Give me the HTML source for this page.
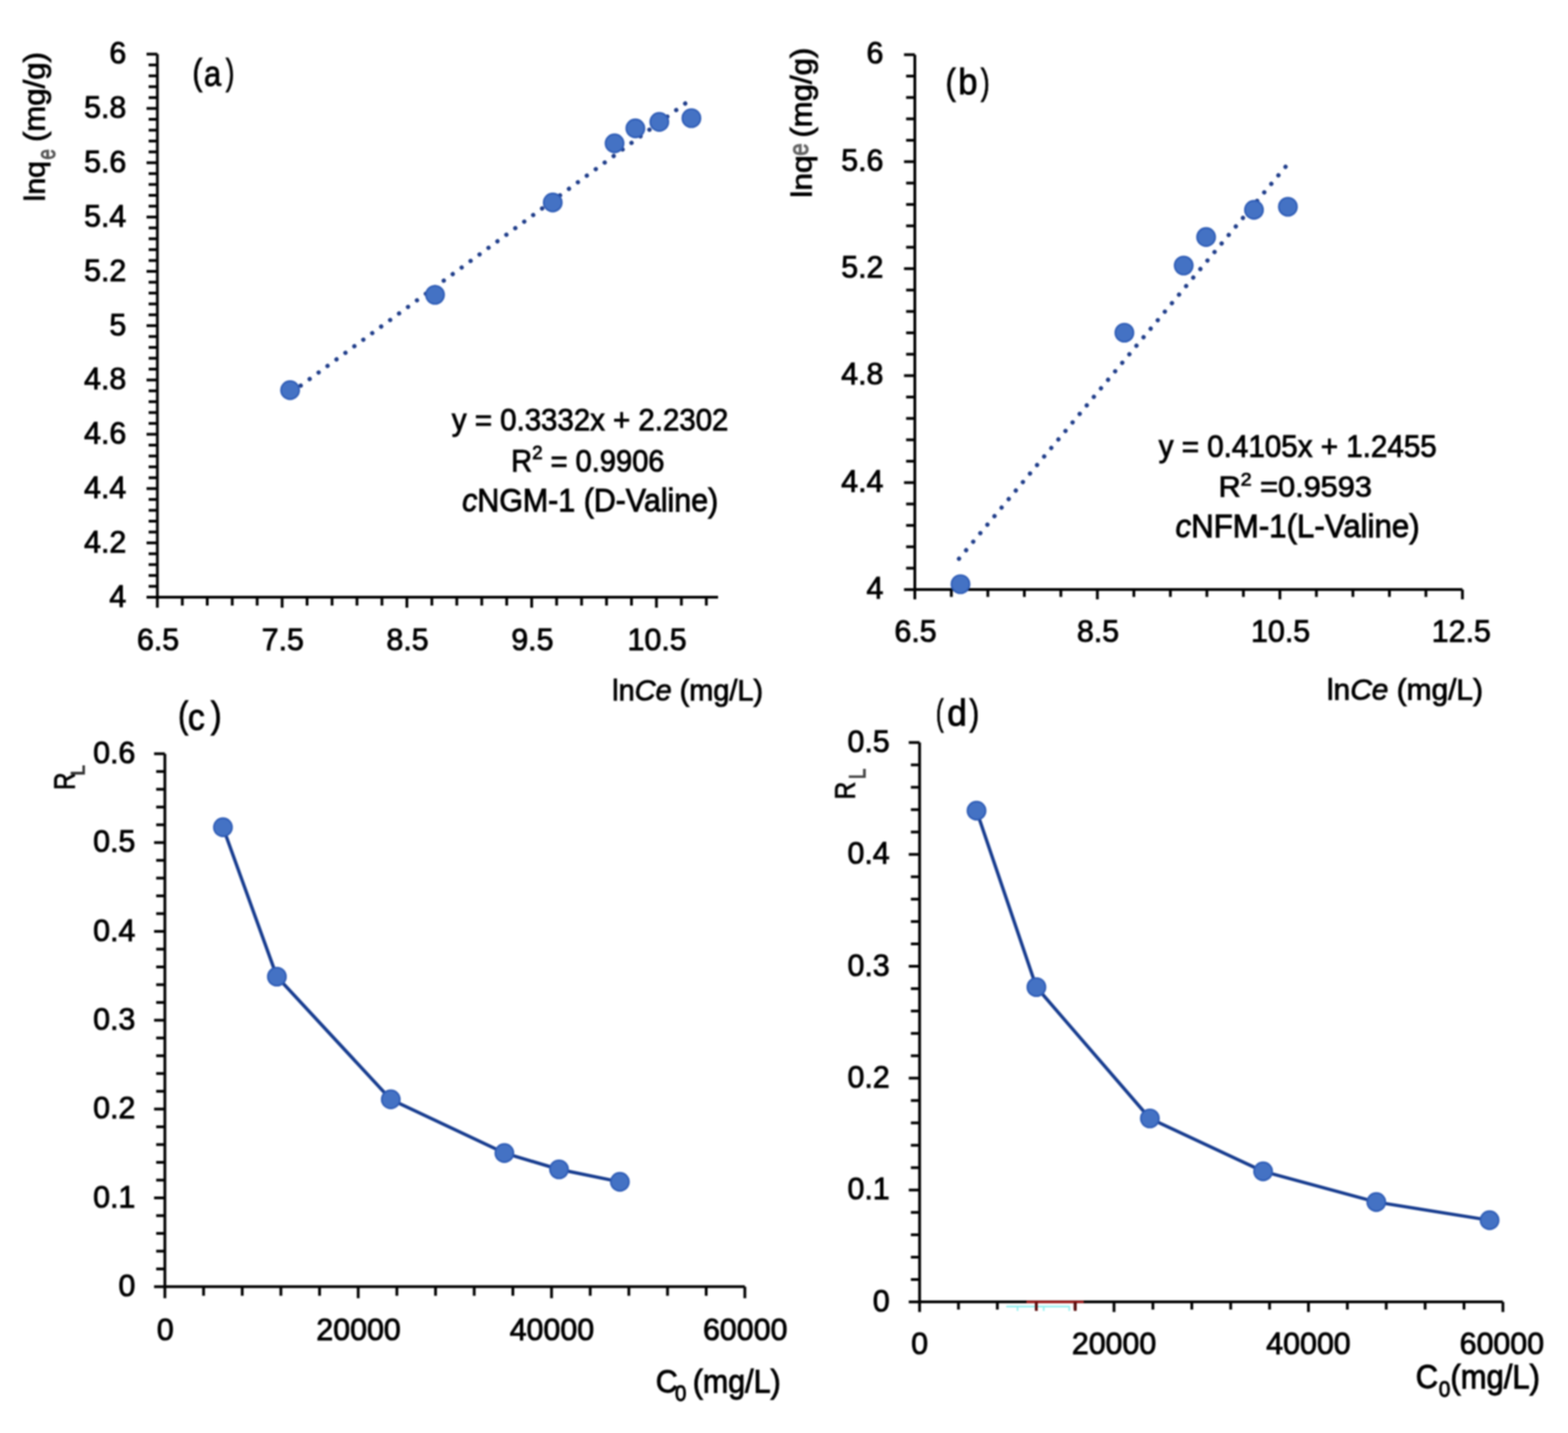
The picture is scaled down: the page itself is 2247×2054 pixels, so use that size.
<!DOCTYPE html><html><head><meta charset="utf-8"><title>Isotherm plots</title><style>html,body{margin:0;padding:0;background:#fff;overflow:hidden;}svg{display:block;filter:blur(1px);}text{font-family:"Liberation Sans", Arial, sans-serif;fill:#000;stroke:#000;stroke-width:1.2px;}</style></head><body>
<svg width="2247" height="2054" viewBox="0 0 2247 2054">
<rect width="2247" height="2054" fill="#fff"/>
<line x1="225.5" y1="77.6" x2="225.5" y2="856" stroke="#000" stroke-width="4.0" />
<line x1="225.5" y1="856" x2="1029" y2="856" stroke="#000" stroke-width="4.0" />
<line x1="210" y1="856" x2="225.5" y2="856" stroke="#000" stroke-width="4.0" />
<line x1="210" y1="778.16" x2="225.5" y2="778.16" stroke="#000" stroke-width="4.0" />
<line x1="210" y1="700.32" x2="225.5" y2="700.32" stroke="#000" stroke-width="4.0" />
<line x1="210" y1="622.48" x2="225.5" y2="622.48" stroke="#000" stroke-width="4.0" />
<line x1="210" y1="544.64" x2="225.5" y2="544.64" stroke="#000" stroke-width="4.0" />
<line x1="210" y1="466.8" x2="225.5" y2="466.8" stroke="#000" stroke-width="4.0" />
<line x1="210" y1="388.96" x2="225.5" y2="388.96" stroke="#000" stroke-width="4.0" />
<line x1="210" y1="311.12" x2="225.5" y2="311.12" stroke="#000" stroke-width="4.0" />
<line x1="210" y1="233.28" x2="225.5" y2="233.28" stroke="#000" stroke-width="4.0" />
<line x1="210" y1="155.44" x2="225.5" y2="155.44" stroke="#000" stroke-width="4.0" />
<line x1="210" y1="77.6" x2="225.5" y2="77.6" stroke="#000" stroke-width="4.0" />
<line x1="213" y1="840.43" x2="225.5" y2="840.43" stroke="#000" stroke-width="4.0" />
<line x1="213" y1="824.86" x2="225.5" y2="824.86" stroke="#000" stroke-width="4.0" />
<line x1="213" y1="809.3" x2="225.5" y2="809.3" stroke="#000" stroke-width="4.0" />
<line x1="213" y1="793.73" x2="225.5" y2="793.73" stroke="#000" stroke-width="4.0" />
<line x1="213" y1="762.59" x2="225.5" y2="762.59" stroke="#000" stroke-width="4.0" />
<line x1="213" y1="747.02" x2="225.5" y2="747.02" stroke="#000" stroke-width="4.0" />
<line x1="213" y1="731.46" x2="225.5" y2="731.46" stroke="#000" stroke-width="4.0" />
<line x1="213" y1="715.89" x2="225.5" y2="715.89" stroke="#000" stroke-width="4.0" />
<line x1="213" y1="684.75" x2="225.5" y2="684.75" stroke="#000" stroke-width="4.0" />
<line x1="213" y1="669.18" x2="225.5" y2="669.18" stroke="#000" stroke-width="4.0" />
<line x1="213" y1="653.62" x2="225.5" y2="653.62" stroke="#000" stroke-width="4.0" />
<line x1="213" y1="638.05" x2="225.5" y2="638.05" stroke="#000" stroke-width="4.0" />
<line x1="213" y1="606.91" x2="225.5" y2="606.91" stroke="#000" stroke-width="4.0" />
<line x1="213" y1="591.34" x2="225.5" y2="591.34" stroke="#000" stroke-width="4.0" />
<line x1="213" y1="575.78" x2="225.5" y2="575.78" stroke="#000" stroke-width="4.0" />
<line x1="213" y1="560.21" x2="225.5" y2="560.21" stroke="#000" stroke-width="4.0" />
<line x1="213" y1="529.07" x2="225.5" y2="529.07" stroke="#000" stroke-width="4.0" />
<line x1="213" y1="513.5" x2="225.5" y2="513.5" stroke="#000" stroke-width="4.0" />
<line x1="213" y1="497.94" x2="225.5" y2="497.94" stroke="#000" stroke-width="4.0" />
<line x1="213" y1="482.37" x2="225.5" y2="482.37" stroke="#000" stroke-width="4.0" />
<line x1="213" y1="451.23" x2="225.5" y2="451.23" stroke="#000" stroke-width="4.0" />
<line x1="213" y1="435.66" x2="225.5" y2="435.66" stroke="#000" stroke-width="4.0" />
<line x1="213" y1="420.1" x2="225.5" y2="420.1" stroke="#000" stroke-width="4.0" />
<line x1="213" y1="404.53" x2="225.5" y2="404.53" stroke="#000" stroke-width="4.0" />
<line x1="213" y1="373.39" x2="225.5" y2="373.39" stroke="#000" stroke-width="4.0" />
<line x1="213" y1="357.82" x2="225.5" y2="357.82" stroke="#000" stroke-width="4.0" />
<line x1="213" y1="342.26" x2="225.5" y2="342.26" stroke="#000" stroke-width="4.0" />
<line x1="213" y1="326.69" x2="225.5" y2="326.69" stroke="#000" stroke-width="4.0" />
<line x1="213" y1="295.55" x2="225.5" y2="295.55" stroke="#000" stroke-width="4.0" />
<line x1="213" y1="279.98" x2="225.5" y2="279.98" stroke="#000" stroke-width="4.0" />
<line x1="213" y1="264.42" x2="225.5" y2="264.42" stroke="#000" stroke-width="4.0" />
<line x1="213" y1="248.85" x2="225.5" y2="248.85" stroke="#000" stroke-width="4.0" />
<line x1="213" y1="217.71" x2="225.5" y2="217.71" stroke="#000" stroke-width="4.0" />
<line x1="213" y1="202.14" x2="225.5" y2="202.14" stroke="#000" stroke-width="4.0" />
<line x1="213" y1="186.58" x2="225.5" y2="186.58" stroke="#000" stroke-width="4.0" />
<line x1="213" y1="171.01" x2="225.5" y2="171.01" stroke="#000" stroke-width="4.0" />
<line x1="213" y1="139.87" x2="225.5" y2="139.87" stroke="#000" stroke-width="4.0" />
<line x1="213" y1="124.3" x2="225.5" y2="124.3" stroke="#000" stroke-width="4.0" />
<line x1="213" y1="108.74" x2="225.5" y2="108.74" stroke="#000" stroke-width="4.0" />
<line x1="213" y1="93.17" x2="225.5" y2="93.17" stroke="#000" stroke-width="4.0" />
<line x1="225.5" y1="856" x2="225.5" y2="871" stroke="#000" stroke-width="4.0" />
<line x1="404.3" y1="856" x2="404.3" y2="871" stroke="#000" stroke-width="4.0" />
<line x1="583.1" y1="856" x2="583.1" y2="871" stroke="#000" stroke-width="4.0" />
<line x1="761.9" y1="856" x2="761.9" y2="871" stroke="#000" stroke-width="4.0" />
<line x1="940.7" y1="856" x2="940.7" y2="871" stroke="#000" stroke-width="4.0" />
<line x1="261.26" y1="856" x2="261.26" y2="868" stroke="#000" stroke-width="4.0" />
<line x1="297.02" y1="856" x2="297.02" y2="868" stroke="#000" stroke-width="4.0" />
<line x1="332.78" y1="856" x2="332.78" y2="868" stroke="#000" stroke-width="4.0" />
<line x1="368.54" y1="856" x2="368.54" y2="868" stroke="#000" stroke-width="4.0" />
<line x1="440.06" y1="856" x2="440.06" y2="868" stroke="#000" stroke-width="4.0" />
<line x1="475.82" y1="856" x2="475.82" y2="868" stroke="#000" stroke-width="4.0" />
<line x1="511.58" y1="856" x2="511.58" y2="868" stroke="#000" stroke-width="4.0" />
<line x1="547.34" y1="856" x2="547.34" y2="868" stroke="#000" stroke-width="4.0" />
<line x1="618.86" y1="856" x2="618.86" y2="868" stroke="#000" stroke-width="4.0" />
<line x1="654.62" y1="856" x2="654.62" y2="868" stroke="#000" stroke-width="4.0" />
<line x1="690.38" y1="856" x2="690.38" y2="868" stroke="#000" stroke-width="4.0" />
<line x1="726.14" y1="856" x2="726.14" y2="868" stroke="#000" stroke-width="4.0" />
<line x1="797.66" y1="856" x2="797.66" y2="868" stroke="#000" stroke-width="4.0" />
<line x1="833.42" y1="856" x2="833.42" y2="868" stroke="#000" stroke-width="4.0" />
<line x1="869.18" y1="856" x2="869.18" y2="868" stroke="#000" stroke-width="4.0" />
<line x1="904.94" y1="856" x2="904.94" y2="868" stroke="#000" stroke-width="4.0" />
<line x1="976.46" y1="856" x2="976.46" y2="868" stroke="#000" stroke-width="4.0" />
<line x1="1012.22" y1="856" x2="1012.22" y2="868" stroke="#000" stroke-width="4.0" />
<text x="181" y="869.8" text-anchor="end" font-size="43.5" >4</text>
<text x="181" y="791.96" text-anchor="end" font-size="43.5" >4.2</text>
<text x="181" y="714.12" text-anchor="end" font-size="43.5" >4.4</text>
<text x="181" y="636.28" text-anchor="end" font-size="43.5" >4.6</text>
<text x="181" y="558.44" text-anchor="end" font-size="43.5" >4.8</text>
<text x="181" y="480.6" text-anchor="end" font-size="43.5" >5</text>
<text x="181" y="402.76" text-anchor="end" font-size="43.5" >5.2</text>
<text x="181" y="324.92" text-anchor="end" font-size="43.5" >5.4</text>
<text x="181" y="247.08" text-anchor="end" font-size="43.5" >5.6</text>
<text x="181" y="169.24" text-anchor="end" font-size="43.5" >5.8</text>
<text x="181" y="91.4" text-anchor="end" font-size="43.5" >6</text>
<text x="226.5" y="932" text-anchor="middle" font-size="43.5" >6.5</text>
<text x="405.3" y="932" text-anchor="middle" font-size="43.5" >7.5</text>
<text x="584.1" y="932" text-anchor="middle" font-size="43.5" >8.5</text>
<text x="762.9" y="932" text-anchor="middle" font-size="43.5" >9.5</text>
<text x="941.7" y="932" text-anchor="middle" font-size="43.5" >10.5</text>
<path d="M981.9 148.4 L430.49 553.09" stroke="#1f3d8a" stroke-width="6.2" stroke-linecap="round" stroke-dasharray="0.01 15.883179023068818" fill="none"/>
<circle cx="415.7" cy="559.2" r="13.0" fill="#4472c4" stroke="#2e5cb6" stroke-width="2.4"/>
<circle cx="623.4" cy="422.6" r="13.0" fill="#4472c4" stroke="#2e5cb6" stroke-width="2.4"/>
<circle cx="792.1" cy="290.2" r="13.0" fill="#4472c4" stroke="#2e5cb6" stroke-width="2.4"/>
<circle cx="880.7" cy="205.5" r="13.0" fill="#4472c4" stroke="#2e5cb6" stroke-width="2.4"/>
<circle cx="910.5" cy="184" r="13.0" fill="#4472c4" stroke="#2e5cb6" stroke-width="2.4"/>
<circle cx="944.8" cy="174.8" r="13.0" fill="#4472c4" stroke="#2e5cb6" stroke-width="2.4"/>
<circle cx="990.8" cy="169.4" r="13.0" fill="#4472c4" stroke="#2e5cb6" stroke-width="2.4"/>
<g transform="translate(278.1,82.5) scale(0.8214,1.0122) translate(-281,-94)"><text id="a_l1" x="278.1" y="132.1" font-size="52">(</text></g>
<g transform="translate(294,95.2) scale(0.8519,1.0000) translate(-296,-96)"><text id="a_l2" x="294" y="124.2" font-size="52">a</text></g>
<g transform="translate(324.1,82.5) scale(0.7071,1.0122) translate(-325,-94)"><text id="a_l3" x="324.1" y="132.1" font-size="52">)</text></g>
<g transform="translate(647.3,585.3) scale(0.9587,1.0225) translate(-647,-595)"><text id="a_eq1" x="647.3" y="626.2" font-size="44">y = 0.3332x + 2.2302</text></g>
<g transform="translate(735.7,638.7) scale(0.9467,1.0167) translate(-739,-639)"><text id="a_eq2" x="735.7" y="675.3" font-size="44">R<tspan font-size="28" dy="-17">2</tspan><tspan dy="17"> = 0.9906</tspan></text></g>
<g transform="translate(662.6,699.3) scale(0.9902,1.0439) translate(-663,-710)"><text id="a_eq3" x="662.6" y="742.1" font-size="44"><tspan font-style="italic">c</tspan>NGM-1 (D-Valine)</text></g>
<g transform="translate(879.6,972.6) scale(0.9627,1.0075) translate(-882,-982)"><text id="a_xt" x="879.6" y="1012.9" font-size="43">ln<tspan font-style="italic">Ce</tspan> (mg/L)</text></g>
<g transform="translate(33,233.4) scale(0.9395,0.9889) translate(-32,-231)"><text id="a_yt1" transform="translate(65,287) rotate(-90)" font-size="44">lnq</text></g>
<g transform="translate(61,215.2) scale(1.2133,0.9000) translate(-64,-212)"><text id="a_yt2" transform="translate(79,227) rotate(-90)" font-size="30"><tspan fill="#555" stroke="#555">e</tspan></text></g>
<g transform="translate(31.7,76.7) scale(0.9698,1.0146) translate(-32,-77)"><text id="a_yt3" transform="translate(65,202) rotate(-90)" font-size="44">(mg/g)</text></g>
<line x1="1311" y1="78.4" x2="1311" y2="845.1" stroke="#000" stroke-width="4.0" />
<line x1="1311" y1="845.1" x2="2095.7" y2="845.1" stroke="#000" stroke-width="4.0" />
<line x1="1295.5" y1="845.1" x2="1311" y2="845.1" stroke="#000" stroke-width="4.0" />
<line x1="1295.5" y1="691.76" x2="1311" y2="691.76" stroke="#000" stroke-width="4.0" />
<line x1="1295.5" y1="538.42" x2="1311" y2="538.42" stroke="#000" stroke-width="4.0" />
<line x1="1295.5" y1="385.08" x2="1311" y2="385.08" stroke="#000" stroke-width="4.0" />
<line x1="1295.5" y1="231.74" x2="1311" y2="231.74" stroke="#000" stroke-width="4.0" />
<line x1="1295.5" y1="78.4" x2="1311" y2="78.4" stroke="#000" stroke-width="4.0" />
<line x1="1298.5" y1="814.43" x2="1311" y2="814.43" stroke="#000" stroke-width="4.0" />
<line x1="1298.5" y1="783.76" x2="1311" y2="783.76" stroke="#000" stroke-width="4.0" />
<line x1="1298.5" y1="753.1" x2="1311" y2="753.1" stroke="#000" stroke-width="4.0" />
<line x1="1298.5" y1="722.43" x2="1311" y2="722.43" stroke="#000" stroke-width="4.0" />
<line x1="1298.5" y1="661.09" x2="1311" y2="661.09" stroke="#000" stroke-width="4.0" />
<line x1="1298.5" y1="630.42" x2="1311" y2="630.42" stroke="#000" stroke-width="4.0" />
<line x1="1298.5" y1="599.76" x2="1311" y2="599.76" stroke="#000" stroke-width="4.0" />
<line x1="1298.5" y1="569.09" x2="1311" y2="569.09" stroke="#000" stroke-width="4.0" />
<line x1="1298.5" y1="507.75" x2="1311" y2="507.75" stroke="#000" stroke-width="4.0" />
<line x1="1298.5" y1="477.08" x2="1311" y2="477.08" stroke="#000" stroke-width="4.0" />
<line x1="1298.5" y1="446.42" x2="1311" y2="446.42" stroke="#000" stroke-width="4.0" />
<line x1="1298.5" y1="415.75" x2="1311" y2="415.75" stroke="#000" stroke-width="4.0" />
<line x1="1298.5" y1="354.41" x2="1311" y2="354.41" stroke="#000" stroke-width="4.0" />
<line x1="1298.5" y1="323.74" x2="1311" y2="323.74" stroke="#000" stroke-width="4.0" />
<line x1="1298.5" y1="293.08" x2="1311" y2="293.08" stroke="#000" stroke-width="4.0" />
<line x1="1298.5" y1="262.41" x2="1311" y2="262.41" stroke="#000" stroke-width="4.0" />
<line x1="1298.5" y1="201.07" x2="1311" y2="201.07" stroke="#000" stroke-width="4.0" />
<line x1="1298.5" y1="170.4" x2="1311" y2="170.4" stroke="#000" stroke-width="4.0" />
<line x1="1298.5" y1="139.74" x2="1311" y2="139.74" stroke="#000" stroke-width="4.0" />
<line x1="1298.5" y1="109.07" x2="1311" y2="109.07" stroke="#000" stroke-width="4.0" />
<line x1="1311" y1="845.1" x2="1311" y2="859.1" stroke="#000" stroke-width="4.0" />
<line x1="1572.57" y1="845.1" x2="1572.57" y2="859.1" stroke="#000" stroke-width="4.0" />
<line x1="1834.13" y1="845.1" x2="1834.13" y2="859.1" stroke="#000" stroke-width="4.0" />
<line x1="2095.7" y1="845.1" x2="2095.7" y2="859.1" stroke="#000" stroke-width="4.0" />
<line x1="1363.31" y1="845.1" x2="1363.31" y2="855.6" stroke="#000" stroke-width="4.0" />
<line x1="1415.63" y1="845.1" x2="1415.63" y2="855.6" stroke="#000" stroke-width="4.0" />
<line x1="1467.94" y1="845.1" x2="1467.94" y2="855.6" stroke="#000" stroke-width="4.0" />
<line x1="1520.25" y1="845.1" x2="1520.25" y2="855.6" stroke="#000" stroke-width="4.0" />
<line x1="1624.88" y1="845.1" x2="1624.88" y2="855.6" stroke="#000" stroke-width="4.0" />
<line x1="1677.19" y1="845.1" x2="1677.19" y2="855.6" stroke="#000" stroke-width="4.0" />
<line x1="1729.51" y1="845.1" x2="1729.51" y2="855.6" stroke="#000" stroke-width="4.0" />
<line x1="1781.82" y1="845.1" x2="1781.82" y2="855.6" stroke="#000" stroke-width="4.0" />
<line x1="1886.45" y1="845.1" x2="1886.45" y2="855.6" stroke="#000" stroke-width="4.0" />
<line x1="1938.76" y1="845.1" x2="1938.76" y2="855.6" stroke="#000" stroke-width="4.0" />
<line x1="1991.07" y1="845.1" x2="1991.07" y2="855.6" stroke="#000" stroke-width="4.0" />
<line x1="2043.39" y1="845.1" x2="2043.39" y2="855.6" stroke="#000" stroke-width="4.0" />
<text x="1266" y="858.1" text-anchor="end" font-size="43.5" >4</text>
<text x="1266" y="704.76" text-anchor="end" font-size="43.5" >4.4</text>
<text x="1266" y="551.42" text-anchor="end" font-size="43.5" >4.8</text>
<text x="1266" y="398.08" text-anchor="end" font-size="43.5" >5.2</text>
<text x="1266" y="244.74" text-anchor="end" font-size="43.5" >5.6</text>
<text x="1266" y="91.4" text-anchor="end" font-size="43.5" >6</text>
<text x="1312" y="919.5" text-anchor="middle" font-size="43.5" >6.5</text>
<text x="1573.57" y="919.5" text-anchor="middle" font-size="43.5" >8.5</text>
<text x="1835.13" y="919.5" text-anchor="middle" font-size="43.5" >10.5</text>
<text x="2094.2" y="919.5" text-anchor="middle" font-size="43.5" >12.5</text>
<path d="M1842.2 239.1 L1373.96 801.27" stroke="#1f3d8a" stroke-width="6.2" stroke-linecap="round" stroke-dasharray="0.01 15.883253774733621" fill="none"/>
<circle cx="1376.4" cy="837.4" r="13.0" fill="#4472c4" stroke="#2e5cb6" stroke-width="2.4"/>
<circle cx="1611.3" cy="476.9" r="13.0" fill="#4472c4" stroke="#2e5cb6" stroke-width="2.4"/>
<circle cx="1696.3" cy="380.6" r="13.0" fill="#4472c4" stroke="#2e5cb6" stroke-width="2.4"/>
<circle cx="1728.4" cy="339.8" r="13.0" fill="#4472c4" stroke="#2e5cb6" stroke-width="2.4"/>
<circle cx="1797" cy="300.7" r="13.0" fill="#4472c4" stroke="#2e5cb6" stroke-width="2.4"/>
<circle cx="1845.6" cy="296.4" r="13.0" fill="#4472c4" stroke="#2e5cb6" stroke-width="2.4"/>
<g transform="translate(1357.3,96.8) scale(0.8500,0.9878) translate(-1360,-107)"><text id="b_l1" x="1357.3" y="145.2" font-size="52">(</text></g>
<g transform="translate(1375.6,97.6) scale(0.9520,0.9974) translate(-1378,-99)"><text id="b_l2" x="1375.6" y="136.5" font-size="52">b</text></g>
<g transform="translate(1405.7,96.8) scale(0.7357,0.9878) translate(-1406,-107)"><text id="b_l3" x="1405.7" y="145.2" font-size="52">)</text></g>
<g transform="translate(1660.7,623.1) scale(0.9643,1.0250) translate(-1661,-633)"><text id="b_eq1" x="1660.7" y="664.1" font-size="44">y = 0.4105x + 1.2455</text></g>
<g transform="translate(1749.1,677.7) scale(1.0000,0.9528) translate(-1752,-676)"><text id="b_eq2" x="1749.1" y="712" font-size="44">R<tspan font-size="28" dy="-17">2</tspan><tspan dy="17"> =0.9593</tspan></text></g>
<g transform="translate(1685.8,737.1) scale(1.0174,1.0439) translate(-1687,-748)"><text id="b_eq3" x="1685.8" y="779.9" font-size="44"><tspan font-style="italic">c</tspan>NFM-1(L-Valine)</text></g>
<g transform="translate(1904.3,972.7) scale(0.9955,1.0000) translate(-1907,-982)"><text id="b_xt" x="1904.3" y="1012.7" font-size="43">ln<tspan font-style="italic">Ce</tspan> (mg/L)</text></g>
<g transform="translate(1131.9,225.3) scale(0.9442,1.0389) translate(-1131,-226)"><text id="b_yt1" transform="translate(1164,282) rotate(-90)" font-size="44">lnq</text></g>
<g transform="translate(1138.5,207.4) scale(1.2786,1.0615) translate(-1141,-207)"><text id="b_yt2" transform="translate(1156,222) rotate(-90)" font-size="30"><tspan fill="#666" stroke="#666">e</tspan></text></g>
<g transform="translate(1131.3,70.6) scale(0.9581,1.0130) translate(-1131,-71)"><text id="b_yt3" transform="translate(1164,196) rotate(-90)" font-size="44">(mg/g)</text></g>
<line x1="236.3" y1="1080.4" x2="236.3" y2="1844.3" stroke="#000" stroke-width="4.0" />
<line x1="236.3" y1="1844.3" x2="1067.4" y2="1844.3" stroke="#000" stroke-width="4.0" />
<line x1="220.8" y1="1844.3" x2="236.3" y2="1844.3" stroke="#000" stroke-width="4.0" />
<line x1="220.8" y1="1716.98" x2="236.3" y2="1716.98" stroke="#000" stroke-width="4.0" />
<line x1="220.8" y1="1589.67" x2="236.3" y2="1589.67" stroke="#000" stroke-width="4.0" />
<line x1="220.8" y1="1462.35" x2="236.3" y2="1462.35" stroke="#000" stroke-width="4.0" />
<line x1="220.8" y1="1335.03" x2="236.3" y2="1335.03" stroke="#000" stroke-width="4.0" />
<line x1="220.8" y1="1207.72" x2="236.3" y2="1207.72" stroke="#000" stroke-width="4.0" />
<line x1="220.8" y1="1080.4" x2="236.3" y2="1080.4" stroke="#000" stroke-width="4.0" />
<line x1="223.8" y1="1818.84" x2="236.3" y2="1818.84" stroke="#000" stroke-width="4.0" />
<line x1="223.8" y1="1793.37" x2="236.3" y2="1793.37" stroke="#000" stroke-width="4.0" />
<line x1="223.8" y1="1767.91" x2="236.3" y2="1767.91" stroke="#000" stroke-width="4.0" />
<line x1="223.8" y1="1742.45" x2="236.3" y2="1742.45" stroke="#000" stroke-width="4.0" />
<line x1="223.8" y1="1691.52" x2="236.3" y2="1691.52" stroke="#000" stroke-width="4.0" />
<line x1="223.8" y1="1666.06" x2="236.3" y2="1666.06" stroke="#000" stroke-width="4.0" />
<line x1="223.8" y1="1640.59" x2="236.3" y2="1640.59" stroke="#000" stroke-width="4.0" />
<line x1="223.8" y1="1615.13" x2="236.3" y2="1615.13" stroke="#000" stroke-width="4.0" />
<line x1="223.8" y1="1564.2" x2="236.3" y2="1564.2" stroke="#000" stroke-width="4.0" />
<line x1="223.8" y1="1538.74" x2="236.3" y2="1538.74" stroke="#000" stroke-width="4.0" />
<line x1="223.8" y1="1513.28" x2="236.3" y2="1513.28" stroke="#000" stroke-width="4.0" />
<line x1="223.8" y1="1487.81" x2="236.3" y2="1487.81" stroke="#000" stroke-width="4.0" />
<line x1="223.8" y1="1436.89" x2="236.3" y2="1436.89" stroke="#000" stroke-width="4.0" />
<line x1="223.8" y1="1411.42" x2="236.3" y2="1411.42" stroke="#000" stroke-width="4.0" />
<line x1="223.8" y1="1385.96" x2="236.3" y2="1385.96" stroke="#000" stroke-width="4.0" />
<line x1="223.8" y1="1360.5" x2="236.3" y2="1360.5" stroke="#000" stroke-width="4.0" />
<line x1="223.8" y1="1309.57" x2="236.3" y2="1309.57" stroke="#000" stroke-width="4.0" />
<line x1="223.8" y1="1284.11" x2="236.3" y2="1284.11" stroke="#000" stroke-width="4.0" />
<line x1="223.8" y1="1258.64" x2="236.3" y2="1258.64" stroke="#000" stroke-width="4.0" />
<line x1="223.8" y1="1233.18" x2="236.3" y2="1233.18" stroke="#000" stroke-width="4.0" />
<line x1="223.8" y1="1182.25" x2="236.3" y2="1182.25" stroke="#000" stroke-width="4.0" />
<line x1="223.8" y1="1156.79" x2="236.3" y2="1156.79" stroke="#000" stroke-width="4.0" />
<line x1="223.8" y1="1131.33" x2="236.3" y2="1131.33" stroke="#000" stroke-width="4.0" />
<line x1="223.8" y1="1105.86" x2="236.3" y2="1105.86" stroke="#000" stroke-width="4.0" />
<line x1="236.3" y1="1844.3" x2="236.3" y2="1860.8" stroke="#000" stroke-width="4.0" />
<line x1="513.33" y1="1844.3" x2="513.33" y2="1860.8" stroke="#000" stroke-width="4.0" />
<line x1="790.37" y1="1844.3" x2="790.37" y2="1860.8" stroke="#000" stroke-width="4.0" />
<line x1="1067.4" y1="1844.3" x2="1067.4" y2="1860.8" stroke="#000" stroke-width="4.0" />
<line x1="291.71" y1="1844.3" x2="291.71" y2="1857.3" stroke="#000" stroke-width="4.0" />
<line x1="347.11" y1="1844.3" x2="347.11" y2="1857.3" stroke="#000" stroke-width="4.0" />
<line x1="402.52" y1="1844.3" x2="402.52" y2="1857.3" stroke="#000" stroke-width="4.0" />
<line x1="457.93" y1="1844.3" x2="457.93" y2="1857.3" stroke="#000" stroke-width="4.0" />
<line x1="568.74" y1="1844.3" x2="568.74" y2="1857.3" stroke="#000" stroke-width="4.0" />
<line x1="624.15" y1="1844.3" x2="624.15" y2="1857.3" stroke="#000" stroke-width="4.0" />
<line x1="679.55" y1="1844.3" x2="679.55" y2="1857.3" stroke="#000" stroke-width="4.0" />
<line x1="734.96" y1="1844.3" x2="734.96" y2="1857.3" stroke="#000" stroke-width="4.0" />
<line x1="845.77" y1="1844.3" x2="845.77" y2="1857.3" stroke="#000" stroke-width="4.0" />
<line x1="901.18" y1="1844.3" x2="901.18" y2="1857.3" stroke="#000" stroke-width="4.0" />
<line x1="956.59" y1="1844.3" x2="956.59" y2="1857.3" stroke="#000" stroke-width="4.0" />
<line x1="1011.99" y1="1844.3" x2="1011.99" y2="1857.3" stroke="#000" stroke-width="4.0" />
<text x="194" y="1857.9" text-anchor="end" font-size="43.5" >0</text>
<text x="194" y="1730.58" text-anchor="end" font-size="43.5" >0.1</text>
<text x="194" y="1603.27" text-anchor="end" font-size="43.5" >0.2</text>
<text x="194" y="1475.95" text-anchor="end" font-size="43.5" >0.3</text>
<text x="194" y="1348.63" text-anchor="end" font-size="43.5" >0.4</text>
<text x="194" y="1221.32" text-anchor="end" font-size="43.5" >0.5</text>
<text x="194" y="1094" text-anchor="end" font-size="43.5" >0.6</text>
<text x="236.8" y="1920.5" text-anchor="middle" font-size="43.5" >0</text>
<text x="513.83" y="1920.5" text-anchor="middle" font-size="43.5" >20000</text>
<text x="790.87" y="1920.5" text-anchor="middle" font-size="43.5" >40000</text>
<text x="1067.9" y="1920.5" text-anchor="middle" font-size="43.5" >60000</text>
<polyline points="319.5,1185.7 396.8,1399.9 560,1575.8 722.8,1652.7 801.1,1676.1 888.3,1694" stroke="#173c8f" stroke-width="4.8" fill="none" stroke-linejoin="round"/>
<circle cx="319.5" cy="1185.7" r="13.0" fill="#4472c4" stroke="#2e5cb6" stroke-width="2.4"/>
<circle cx="396.8" cy="1399.9" r="13.0" fill="#4472c4" stroke="#2e5cb6" stroke-width="2.4"/>
<circle cx="560" cy="1575.8" r="13.0" fill="#4472c4" stroke="#2e5cb6" stroke-width="2.4"/>
<circle cx="722.8" cy="1652.7" r="13.0" fill="#4472c4" stroke="#2e5cb6" stroke-width="2.4"/>
<circle cx="801.1" cy="1676.1" r="13.0" fill="#4472c4" stroke="#2e5cb6" stroke-width="2.4"/>
<circle cx="888.3" cy="1694" r="13.0" fill="#4472c4" stroke="#2e5cb6" stroke-width="2.4"/>
<g transform="translate(257.9,1004.6) scale(0.8429,1.0204) translate(-261,-1017)"><text id="c_l1" x="257.9" y="1054.6" font-size="52">(</text></g>
<g transform="translate(271.1,1017.8) scale(0.9348,1.0034) translate(-273,-1019)"><text id="c_l2" x="271.1" y="1046.9" font-size="52">c</text></g>
<g transform="translate(303,1004.6) scale(0.9000,1.0204) translate(-304,-1017)"><text id="c_l3" x="303" y="1054.6" font-size="52">)</text></g>
<g transform="translate(941.9,1963) scale(1.0151,1.0857) translate(-944,-1978)"><text id="c_xt" x="941.9" y="2008.6" font-size="43">C<tspan font-size="29" dx="-4" dy="11">0</tspan><tspan dy="-11" dx="-3"> (mg/L)</tspan></text></g>
<g transform="translate(75.6,1109.3) scale(0.9818,0.7885) translate(-76,-1101)"><text id="c_yt1" transform="translate(108,1130) rotate(-90)" font-size="44">R</text></g>
<g transform="translate(101,1098.2) scale(1.1471,1.1300) translate(-103,-1098)"><text id="c_yt2" transform="translate(120,1110) rotate(-90)" font-size="24"><tspan fill="#333" stroke="#333">L</tspan></text></g>
<line x1="1317.8" y1="1064.3" x2="1317.8" y2="1866.1" stroke="#000" stroke-width="4.0" />
<line x1="1317.8" y1="1866.1" x2="2153.7" y2="1866.1" stroke="#000" stroke-width="4.0" />
<line x1="1302.3" y1="1866.1" x2="1317.8" y2="1866.1" stroke="#000" stroke-width="4.0" />
<line x1="1302.3" y1="1705.74" x2="1317.8" y2="1705.74" stroke="#000" stroke-width="4.0" />
<line x1="1302.3" y1="1545.38" x2="1317.8" y2="1545.38" stroke="#000" stroke-width="4.0" />
<line x1="1302.3" y1="1385.02" x2="1317.8" y2="1385.02" stroke="#000" stroke-width="4.0" />
<line x1="1302.3" y1="1224.66" x2="1317.8" y2="1224.66" stroke="#000" stroke-width="4.0" />
<line x1="1302.3" y1="1064.3" x2="1317.8" y2="1064.3" stroke="#000" stroke-width="4.0" />
<line x1="1305.3" y1="1834.03" x2="1317.8" y2="1834.03" stroke="#000" stroke-width="4.0" />
<line x1="1305.3" y1="1801.96" x2="1317.8" y2="1801.96" stroke="#000" stroke-width="4.0" />
<line x1="1305.3" y1="1769.88" x2="1317.8" y2="1769.88" stroke="#000" stroke-width="4.0" />
<line x1="1305.3" y1="1737.81" x2="1317.8" y2="1737.81" stroke="#000" stroke-width="4.0" />
<line x1="1305.3" y1="1673.67" x2="1317.8" y2="1673.67" stroke="#000" stroke-width="4.0" />
<line x1="1305.3" y1="1641.6" x2="1317.8" y2="1641.6" stroke="#000" stroke-width="4.0" />
<line x1="1305.3" y1="1609.52" x2="1317.8" y2="1609.52" stroke="#000" stroke-width="4.0" />
<line x1="1305.3" y1="1577.45" x2="1317.8" y2="1577.45" stroke="#000" stroke-width="4.0" />
<line x1="1305.3" y1="1513.31" x2="1317.8" y2="1513.31" stroke="#000" stroke-width="4.0" />
<line x1="1305.3" y1="1481.24" x2="1317.8" y2="1481.24" stroke="#000" stroke-width="4.0" />
<line x1="1305.3" y1="1449.16" x2="1317.8" y2="1449.16" stroke="#000" stroke-width="4.0" />
<line x1="1305.3" y1="1417.09" x2="1317.8" y2="1417.09" stroke="#000" stroke-width="4.0" />
<line x1="1305.3" y1="1352.95" x2="1317.8" y2="1352.95" stroke="#000" stroke-width="4.0" />
<line x1="1305.3" y1="1320.88" x2="1317.8" y2="1320.88" stroke="#000" stroke-width="4.0" />
<line x1="1305.3" y1="1288.8" x2="1317.8" y2="1288.8" stroke="#000" stroke-width="4.0" />
<line x1="1305.3" y1="1256.73" x2="1317.8" y2="1256.73" stroke="#000" stroke-width="4.0" />
<line x1="1305.3" y1="1192.59" x2="1317.8" y2="1192.59" stroke="#000" stroke-width="4.0" />
<line x1="1305.3" y1="1160.52" x2="1317.8" y2="1160.52" stroke="#000" stroke-width="4.0" />
<line x1="1305.3" y1="1128.44" x2="1317.8" y2="1128.44" stroke="#000" stroke-width="4.0" />
<line x1="1305.3" y1="1096.37" x2="1317.8" y2="1096.37" stroke="#000" stroke-width="4.0" />
<line x1="1317.8" y1="1866.1" x2="1317.8" y2="1880.6" stroke="#000" stroke-width="4.0" />
<line x1="1596.43" y1="1866.1" x2="1596.43" y2="1880.6" stroke="#000" stroke-width="4.0" />
<line x1="1875.07" y1="1866.1" x2="1875.07" y2="1880.6" stroke="#000" stroke-width="4.0" />
<line x1="2153.7" y1="1866.1" x2="2153.7" y2="1880.6" stroke="#000" stroke-width="4.0" />
<line x1="1373.53" y1="1866.1" x2="1373.53" y2="1877.1" stroke="#000" stroke-width="4.0" />
<line x1="1429.25" y1="1866.1" x2="1429.25" y2="1877.1" stroke="#000" stroke-width="4.0" />
<line x1="1484.98" y1="1866.1" x2="1484.98" y2="1877.1" stroke="#000" stroke-width="4.0" />
<line x1="1540.71" y1="1866.1" x2="1540.71" y2="1877.1" stroke="#000" stroke-width="4.0" />
<line x1="1652.16" y1="1866.1" x2="1652.16" y2="1877.1" stroke="#000" stroke-width="4.0" />
<line x1="1707.89" y1="1866.1" x2="1707.89" y2="1877.1" stroke="#000" stroke-width="4.0" />
<line x1="1763.61" y1="1866.1" x2="1763.61" y2="1877.1" stroke="#000" stroke-width="4.0" />
<line x1="1819.34" y1="1866.1" x2="1819.34" y2="1877.1" stroke="#000" stroke-width="4.0" />
<line x1="1930.79" y1="1866.1" x2="1930.79" y2="1877.1" stroke="#000" stroke-width="4.0" />
<line x1="1986.52" y1="1866.1" x2="1986.52" y2="1877.1" stroke="#000" stroke-width="4.0" />
<line x1="2042.25" y1="1866.1" x2="2042.25" y2="1877.1" stroke="#000" stroke-width="4.0" />
<line x1="2097.97" y1="1866.1" x2="2097.97" y2="1877.1" stroke="#000" stroke-width="4.0" />
<text x="1275" y="1879.8" text-anchor="end" font-size="43.5" >0</text>
<text x="1275" y="1719.44" text-anchor="end" font-size="43.5" >0.1</text>
<text x="1275" y="1559.08" text-anchor="end" font-size="43.5" >0.2</text>
<text x="1275" y="1398.72" text-anchor="end" font-size="43.5" >0.3</text>
<text x="1275" y="1238.36" text-anchor="end" font-size="43.5" >0.4</text>
<text x="1275" y="1078" text-anchor="end" font-size="43.5" >0.5</text>
<text x="1317.8" y="1941" text-anchor="middle" font-size="43.5" >0</text>
<text x="1596.43" y="1941" text-anchor="middle" font-size="43.5" >20000</text>
<text x="1875.07" y="1941" text-anchor="middle" font-size="43.5" >40000</text>
<text x="2152.2" y="1941" text-anchor="middle" font-size="43.5" >60000</text>
<line x1="1471" y1="1866.1" x2="1553" y2="1866.1" stroke="#b02020" stroke-width="3.4" />
<line x1="1442" y1="1872.8" x2="1533" y2="1872.8" stroke="#8ef0f0" stroke-width="2.4" />
<line x1="1458.2" y1="1872" x2="1458.2" y2="1879" stroke="#8ef0f0" stroke-width="2.2" />
<line x1="1495.7" y1="1872" x2="1495.7" y2="1879" stroke="#8ef0f0" stroke-width="2.2" />
<line x1="1532.3" y1="1872" x2="1532.3" y2="1879" stroke="#8ef0f0" stroke-width="2.2" />
<line x1="1485.1" y1="1866" x2="1485.1" y2="1879" stroke="#5a0a0a" stroke-width="4.0" />
<line x1="1540.8" y1="1866" x2="1540.8" y2="1879" stroke="#5a0a0a" stroke-width="4.0" />
<polyline points="1399.4,1162 1485.2,1414.9 1647.8,1603.1 1810.1,1679 1972.3,1723 2134.6,1749" stroke="#173c8f" stroke-width="4.8" fill="none" stroke-linejoin="round"/>
<circle cx="1399.4" cy="1162" r="13.0" fill="#4472c4" stroke="#2e5cb6" stroke-width="2.4"/>
<circle cx="1485.2" cy="1414.9" r="13.0" fill="#4472c4" stroke="#2e5cb6" stroke-width="2.4"/>
<circle cx="1647.8" cy="1603.1" r="13.0" fill="#4472c4" stroke="#2e5cb6" stroke-width="2.4"/>
<circle cx="1810.1" cy="1679" r="13.0" fill="#4472c4" stroke="#2e5cb6" stroke-width="2.4"/>
<circle cx="1972.3" cy="1723" r="13.0" fill="#4472c4" stroke="#2e5cb6" stroke-width="2.4"/>
<circle cx="2134.6" cy="1749" r="13.0" fill="#4472c4" stroke="#2e5cb6" stroke-width="2.4"/>
<g transform="translate(1343.1,1001.2) scale(0.6357,0.9959) translate(-1346,-1012)"><text id="d_l1" x="1343.1" y="1050" font-size="52">(</text></g>
<g transform="translate(1359.2,1001.8) scale(0.9667,1.0231) translate(-1361,-1004)"><text id="d_l2" x="1359.2" y="1041.7" font-size="52">d</text></g>
<g transform="translate(1390.1,1001.2) scale(0.8071,0.9959) translate(-1391,-1012)"><text id="d_l3" x="1390.1" y="1050" font-size="52">)</text></g>
<g transform="translate(2030.9,1956.5) scale(1.0333,1.1000) translate(-2033,-1971)"><text id="d_xt" x="2030.9" y="2001.6" font-size="43">C<tspan font-size="29" dx="1" dy="10.5">0</tspan><tspan dy="-10.5">(mg/L)</tspan></text></g>
<g transform="translate(1194.9,1122.6) scale(0.9364,0.8038) translate(-1194,-1115)"><text id="d_yt1" transform="translate(1226,1144) rotate(-90)" font-size="44">R</text></g>
<g transform="translate(1217.5,1103.2) scale(1.1000,0.9077) translate(-1219,-1101)"><text id="d_yt2" transform="translate(1239,1116) rotate(-90)" font-size="30"><tspan fill="#444" stroke="#444">L</tspan></text></g>
</svg></body></html>
